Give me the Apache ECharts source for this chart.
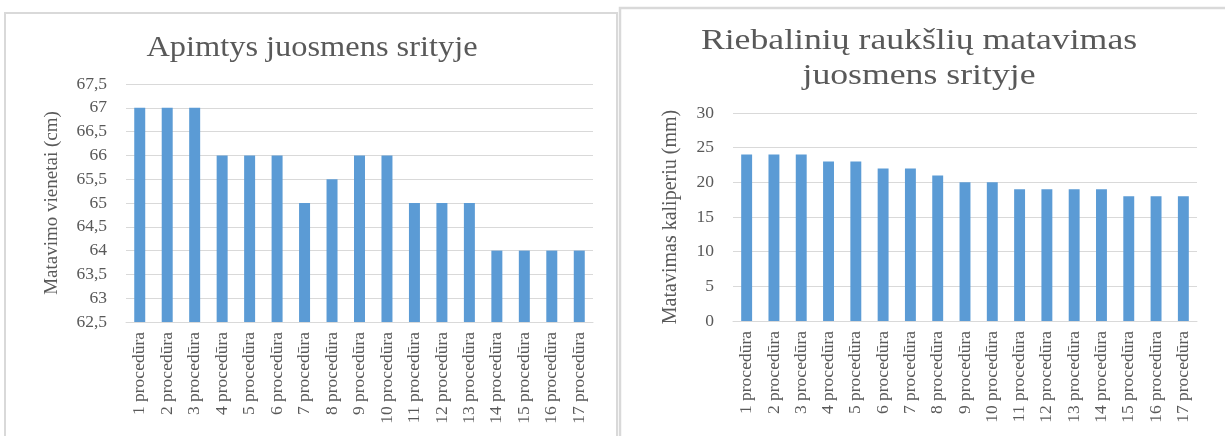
<!DOCTYPE html>
<html>
<head>
<meta charset="utf-8">
<script src="https://cdn.jsdelivr.net/npm/echarts@6/dist/echarts.min.js"></script>
<style>
  html, body { margin: 0; padding: 0; background: #ffffff; }
  #chart { width: 1225px; height: 436px; }
</style>
</head>
<body>
<div id="chart"></div>
<script>
// Procedure labels shared by both panels
const categories = [
  '1 procedūra', '2 procedūra', '3 procedūra', '4 procedūra', '5 procedūra',
  '6 procedūra', '7 procedūra', '8 procedūra', '9 procedūra', '10 procedūra',
  '11 procedūra', '12 procedūra', '13 procedūra', '14 procedūra', '15 procedūra',
  '16 procedūra', '17 procedūra'
];

// Waist circumference (cm)
const waistValues = [67, 67, 67, 66, 66, 66, 65, 65.5, 66, 66, 65, 65, 65, 64, 64, 64, 64];

// Skinfold thickness measured with a caliper (mm)
const skinfoldValues = [24, 24, 24, 23, 23, 22, 22, 21, 20, 20, 19, 19, 19, 19, 18, 18, 18];

const leftTitle = 'Apimtys juosmens srityje';
const rightTitle = 'Riebalinių raukšlių matavimas\njuosmens srityje';
const leftAxisName = 'Matavimo vienetai (cm)';
const rightAxisName = 'Matavimas kaliperiu (mm)';

const FONT = '"Liberation Serif", "Times New Roman", serif';
const TEXT = '#595959';
const GRID = '#d9d9d9';
const BAR = '#5b9bd5';

const commaDecimal = v => String(v).replace('.', ',');

function xAxisFor(gridIndex) {
  return {
    type: 'category',
    gridIndex,
    data: categories,
    axisTick: { show: false },
    axisLine: { lineStyle: { color: GRID, width: 1 } },
    axisLabel: {
      rotate: 90,
      interval: 0,
      margin: 10,
      color: TEXT,
      fontFamily: FONT,
      fontSize: 17.5
    }
  };
}

function yAxisFor(gridIndex, name, min, max, interval, nameGap, nameSize) {
  return {
    type: 'value',
    gridIndex,
    min, max, interval,
    name,
    nameLocation: 'middle',
    nameGap,
    nameTextStyle: { color: TEXT, fontFamily: FONT, fontSize: nameSize },
    axisLine: { show: false },
    axisTick: { show: false },
    splitLine: { lineStyle: { color: GRID, width: 1 } },
    axisLabel: {
      margin: 19,
      color: TEXT,
      fontFamily: FONT,
      fontSize: 17.5,
      formatter: commaDecimal
    }
  };
}

// Chart headings, widened slightly to the proportions of the panel titles
function heading(text, cx, top, scaleX) {
  return {
    type: 'text',
    x: cx,
    y: top,
    scaleX,
    silent: true,
    style: {
      text,
      align: 'center',
      verticalAlign: 'top',
      fill: TEXT,
      font: '30px ' + FONT,
      lineHeight: 35
    }
  };
}

const chart = echarts.init(document.getElementById('chart'), null, { renderer: 'canvas' });

chart.setOption({
  backgroundColor: '#ffffff',
  animation: false,
  graphic: [
    {
      type: 'rect',
      shape: { x: 5, y: 13, width: 612, height: 500 },
      style: { fill: 'none', stroke: GRID, lineWidth: 2 },
      silent: true
    },
    {
      type: 'rect',
      shape: { x: 620, y: 8, width: 620, height: 500 },
      style: { fill: 'none', stroke: GRID, lineWidth: 2.5 },
      silent: true
    },
    heading(leftTitle, 312, 31, 1.08),
    heading(rightTitle, 919, 24, 1.19)
  ],
  grid: [
    { left: 126, top: 84, width: 467, height: 238 },
    { left: 733, top: 113, width: 464, height: 208 }
  ],
  xAxis: [xAxisFor(0), xAxisFor(1)],
  yAxis: [
    yAxisFor(0, leftAxisName, 62.5, 67.5, 0.5, 64, 19),
    yAxisFor(1, rightAxisName, 0, 30, 5, 52, 20)
  ],
  series: [
    {
      type: 'bar',
      xAxisIndex: 0,
      yAxisIndex: 0,
      data: waistValues,
      barWidth: '40%',
      itemStyle: { color: BAR }
    },
    {
      type: 'bar',
      xAxisIndex: 1,
      yAxisIndex: 1,
      data: skinfoldValues,
      barWidth: '40%',
      itemStyle: { color: BAR }
    }
  ]
});
</script>
</body>
</html>
